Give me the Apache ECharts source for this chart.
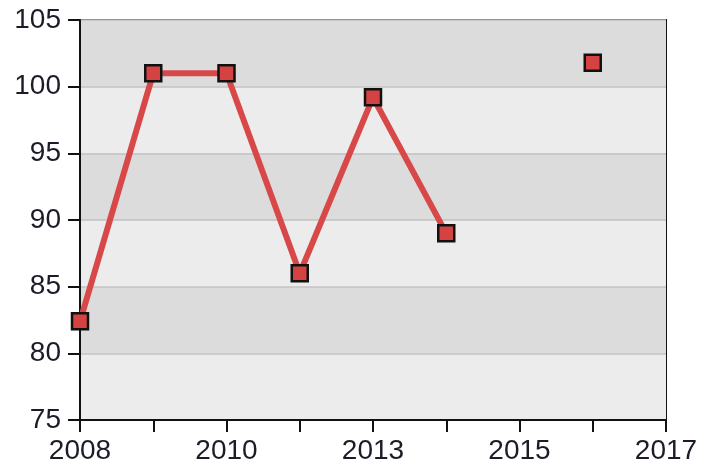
<!DOCTYPE html>
<html>
<head>
    <meta charset="utf-8">
    <title>ECharts</title>
    <script src="https://cdn.jsdelivr.net/npm/echarts@6/dist/echarts.min.js"></script>
</head>
<body style="margin:0;background:#fff;">
    <div id="main" style="width:710px;height:470px;"></div>
    <script type="text/javascript">
        // x positions in years (null = gap in the line)
        var years = [2008, 2009.125, 2010.25, 2011.375, 2012.5, 2013.625, 2014.75, 2015.875];
        var values = [82.4, 101.0, 101.0, 86.0, 99.2, 89.0, null, 101.8];
        var xMin = 2008, xMax = 2017, xStep = 1.125;
        var yMin = 75, yMax = 105, yStep = 5;

        var pts = [];
        for (var i = 0; i < years.length; i++) {
            pts.push([years[i], values[i]]);
        }

        var chart = echarts.init(document.getElementById('main'));
        var option = {
            backgroundColor: '#ffffff',
            animation: false,
            grid: {
                left: 80,
                right: 44,
                top: 20,
                bottom: 50,
                show: true,
                borderColor: '#111',
                borderWidth: 2
            },
            xAxis: {
                type: 'value',
                min: xMin,
                max: xMax,
                interval: xStep,
                axisLine: { show: true, onZero: false, lineStyle: { color: '#111', width: 2 } },
                axisTick: { show: true, length: 12, lineStyle: { color: '#111', width: 2 } },
                splitLine: { show: false },
                axisLabel: {
                    margin: 17,
                    fontFamily: 'Liberation Sans',
                    fontSize: 28,
                    color: '#1c1c28',
                    formatter: function (v) {
                        var k = Math.round((v - xMin) / xStep);
                        return k % 2 === 0 ? String(Math.round(v)) : '';
                    }
                }
            },
            yAxis: {
                type: 'value',
                min: yMin,
                max: yMax,
                interval: yStep,
                axisLine: { show: true, lineStyle: { color: '#111', width: 2 } },
                axisTick: { show: true, length: 12, lineStyle: { color: '#111', width: 2 } },
                axisLabel: {
                    margin: 19,
                    fontFamily: 'Liberation Sans',
                    fontSize: 28,
                    color: '#1c1c28'
                },
                splitLine: { show: true, lineStyle: { color: '#c2c2c2', width: 1.5 } },
                splitArea: { show: true, areaStyle: { color: ['#ececec', '#dcdcdc'] } }
            },
            series: [{
                type: 'line',
                data: pts,
                connectNulls: false,
                symbol: 'rect',
                symbolSize: 16,
                lineStyle: { color: '#d94848', width: 6 },
                itemStyle: { color: '#d44242', borderColor: '#111', borderWidth: 2.5 }
            }]
        };
        chart.setOption(option);
    </script>
</body>
</html>
